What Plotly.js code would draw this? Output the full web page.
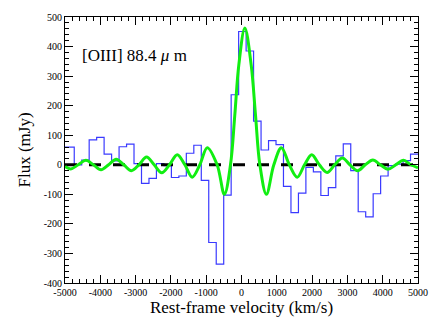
<!DOCTYPE html>
<html>
<head>
<meta charset="utf-8">
<script src="https://cdn.plot.ly/plotly-3.0.1.min.js"></script>
<style>
  html, body { margin: 0; padding: 0; background: #fff; }
  #chart { width: 436px; height: 335px; }
</style>
</head>
<body>
<div id="chart"></div>
<script>
// Blue histogram: left bin edges (km/s) and flux per bin (mJy)
const binEdges = [-5000, -4738, -4527, -4315, -4103, -3892, -3680, -3468, -3256, -3045,
  -2833, -2621, -2410, -2198, -1986, -1774, -1563, -1351, -1139, -928,
  -716, -504, -293, -81, 131, 342, 554, 766, 978, 1189,
  1401, 1613, 1824, 2036, 2248, 2460, 2671, 2883, 3095, 3306,
  3518, 3730, 3941, 4153, 4365, 4577, 4788, 5000];
const binFlux = [60, 0, 16, 84, 93, 36, 13, 61, 70, 4,
  -63, -46, 4, -3, -43, -38, 39, 66, -53, -263,
  -336, -103, 237, 451, 385, 148, 50, 82, 68, -73,
  -162, -96, -9, -24, -104, -77, 30, 71, -20, -159,
  -176, -98, -38, -3, 2, 14, 36];

// Green model curve (velocity, flux)
const modelVel = [-5000, -4840, -4625, -4410, -4195, -3980, -3765, -3550, -3335, -3120,
  -2905, -2690, -2475, -2260, -2040, -1820, -1605, -1395, -1180, -970,
  -690, -485, -312, -190, -76, 95, 274, 397, 520, 705,
  916, 1130, 1355, 1580, 1785, 1990, 2205, 2425, 2640, 2855,
  3070, 3290, 3505, 3720, 3935, 4150, 4370, 4590, 4800, 5000];
const modelFlux = [-6, -14, 0, 15, 0, -17, 0, 19, 0, -20,
  0, 26, 0, -27, 0, 34, 0, -42, 0, 58,
  0, -100, 0, 168, 338, 463, 338, 168, 0, -100,
  0, 58, 0, -42, 0, 34, 0, -26, 0, 23,
  0, -20, 0, 16, 0, -15, 0, 15, 0, -10];

// Zero baseline
const baseVel = [-5000, 5000];
const baseFlux = [0, 0];

// Tick labels
const xTickVals = [-5000, -4000, -3000, -2000, -1000, 0, 1000, 2000, 3000, 4000, 5000];
const xTickText = ['-5000', '-4000', '-3000', '-2000', '-1000', '0', '1000', '2000', '3000', '4000', '5000'];
const yTickVals = [-400, -300, -200, -100, 0, 100, 200, 300, 400, 500];
const yTickText = ['-400', '-300', '-200', '-100', '0', '100', '200', '300', '400', '500'];

const histY = binFlux.concat([binFlux[binFlux.length - 1]]);

const serif = 'Liberation Serif, Times New Roman, serif';

const traces = [
  {
    x: binEdges, y: histY, type: 'scatter', mode: 'lines',
    line: { shape: 'hv', color: '#3a3aff', width: 1.2 },
    hoverinfo: 'skip'
  },
  {
    x: baseVel, y: baseFlux, type: 'scatter', mode: 'lines',
    line: { color: '#000000', width: 3, dash: '12px,12px' },
    hoverinfo: 'skip'
  },
  {
    x: modelVel, y: modelFlux, type: 'scatter', mode: 'lines',
    line: { shape: 'spline', smoothing: 1, color: '#11ee11', width: 3 },
    hoverinfo: 'skip'
  }
];

const axisCommon = {
  showgrid: false, zeroline: false,
  showline: true, linecolor: '#000', linewidth: 1, mirror: 'allticks',
  ticks: 'inside', ticklen: 8, tickwidth: 1, tickcolor: '#000',
  tickfont: { family: serif, size: 10, color: '#000' },
  tickmode: 'array'
};

const layout = {
  width: 436, height: 335,
  margin: { l: 65, r: 18, t: 17, b: 52 },
  paper_bgcolor: '#fff', plot_bgcolor: '#fff',
  showlegend: false,
  xaxis: Object.assign({}, axisCommon, {
    range: [-5000, 5000],
    tickvals: xTickVals, ticktext: xTickText,
    minor: { tickmode: 'linear', tick0: 0, dtick: 200, ticks: 'inside', ticklen: 4, tickcolor: '#000', tickwidth: 1 },
    title: { text: 'Rest-frame velocity (km/s)', font: { family: serif, size: 17, color: '#000' }, standoff: 4 }
  }),
  yaxis: Object.assign({}, axisCommon, {
    range: [-400, 500],
    tickvals: yTickVals, ticktext: yTickText,
    minor: { tickmode: 'linear', tick0: 0, dtick: 20, ticks: 'inside', ticklen: 4, tickcolor: '#000', tickwidth: 1 },
    title: { text: 'Flux (mJy)', font: { family: serif, size: 17, color: '#000' }, standoff: 8 }
  }),
  annotations: [{
    xref: 'paper', yref: 'paper', x: 0.042, y: 0.857,
    xanchor: 'left', yanchor: 'middle', showarrow: false,
    text: '[OIII] 88.4 <i>μ</i> m',
    font: { family: serif, size: 17, color: '#000' }
  }]
};

Plotly.newPlot('chart', traces, layout, { staticPlot: true, displayModeBar: false });
</script>
</body>
</html>
